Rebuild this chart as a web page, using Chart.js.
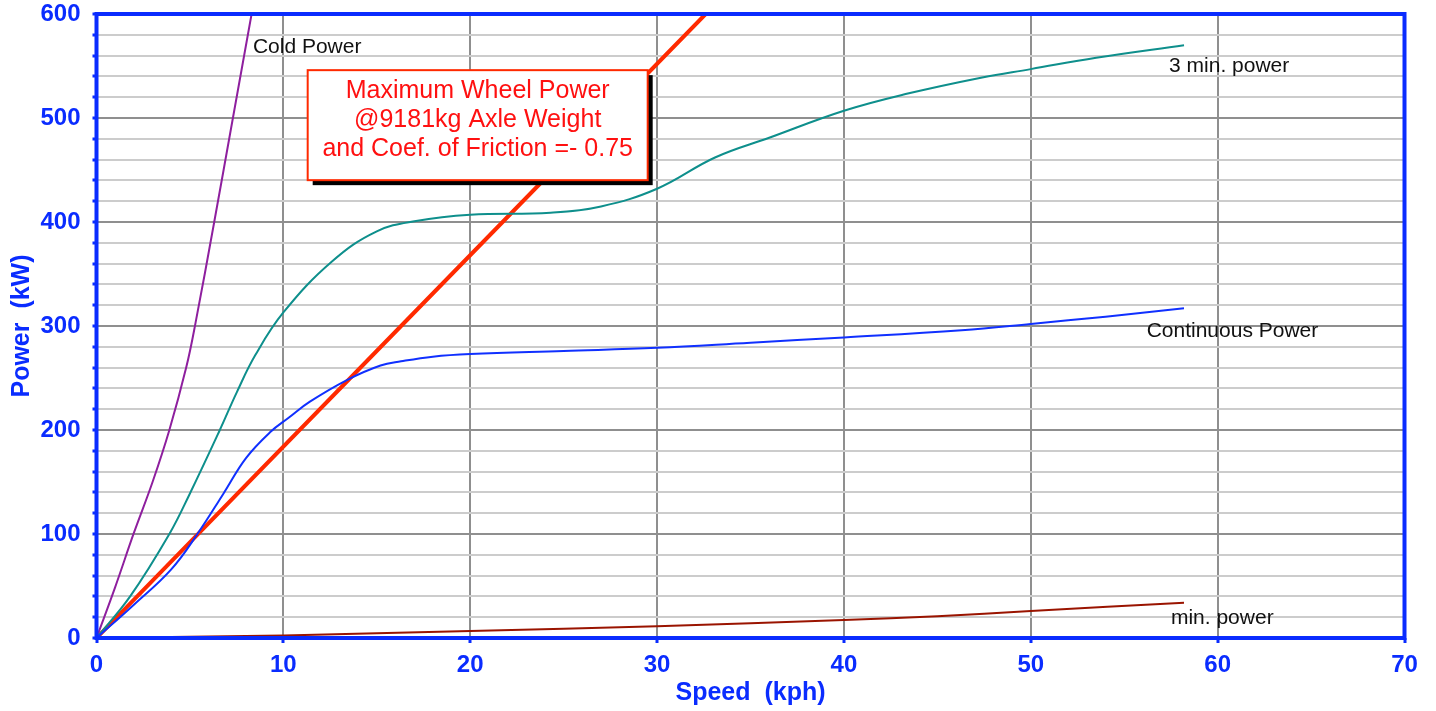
<!DOCTYPE html>
<html>
<head>
<meta charset="utf-8">
<script src="https://cdn.jsdelivr.net/npm/chart.js@4"></script>
<style>
  html, body { margin: 0; padding: 0; background: #fff; }
  #wrap { width: 1436px; height: 711px; }
</style>
</head>
<body>
<div id="wrap"><canvas id="powerChart" width="1436" height="711"></canvas></div>
<script>
// ---------- data (speed in kph, power in kW) ----------
const coldSpeed = [0, 1, 2, 3, 3.9, 4.8, 5.3, 6.3, 7.3, 8.3];
const coldPower = [0, 49, 101, 150, 200, 260, 303, 400, 500, 600];

const threeMinSpeed = [0, 1.8, 3.9, 5, 6.6, 7.5, 8.5, 10, 12.6, 15, 17.1, 20, 24.3, 27, 30, 33.1, 36, 40, 43.3, 47.4, 50, 53.5, 58.2];
const threeMinPower = [0, 40, 100, 139, 200, 236, 272, 313, 362, 391, 401, 407, 409, 415, 432, 462, 481, 507, 523, 539, 547, 558, 570];

const contSpeed = [0, 2, 4, 5.4, 6.8, 8, 9.3, 10.3, 11.4, 13.4, 15.2, 16.3, 18, 20, 25, 30, 35, 40, 46.3, 50, 54, 58.2];
const contPower = [0, 32, 66, 100, 139, 173, 198, 212, 227, 248, 262, 266, 270.5, 273, 276, 279, 284, 289, 296, 302, 309, 317];

const minSpeed = [0, 10, 20, 30, 40, 45, 50, 58.2];
const minPower = [0, 2.5, 6.8, 11.4, 17.2, 21, 26, 34];

const wheelSpeed = [0, 32.6];
const wheelPower = [0, 600];

const xTicks = [0, 10, 20, 30, 40, 50, 60, 70];
const yTicks = [0, 100, 200, 300, 400, 500, 600];

// series name labels: [text, speed, power]
const seriesLabels = [
  ["Cold Power", 8.37, 568],
  ["3 min. power", 57.4, 550],
  ["Continuous Power", 56.2, 295],
  ["min. power", 57.5, 19]
];
const noteLines = ["Maximum Wheel Power", "@9181kg Axle Weight", "and Coef. of Friction =- 0.75"];

// ---------- helpers ----------
const BLUE = "#0a2cff";
const FONT = "'Liberation Sans', Arial, Helvetica, sans-serif";

function toPoints(xs, ys) {
  return xs.map((x, i) => ({ x: x, y: ys[i] }));
}

function lineSet(label, xs, ys, color, width) {
  return {
    label: label,
    data: toPoints(xs, ys),
    borderColor: color,
    borderWidth: width,
    pointRadius: 0,
    fill: false,
    tension: 0.4
  };
}

// blue frame, series names and the red note box
const decorPlugin = {
  id: "decor",
  afterDatasetsDraw(chart) {
    const ctx = chart.ctx;
    const a = chart.chartArea;
    const xs = chart.scales.x;
    const ys = chart.scales.y;

    ctx.save();
    // note box
    const bw = 340, bh = 110;
    const bx = xs.getPixelForValue(20.4) - bw / 2;
    const by = ys.getPixelForValue(546);
    ctx.fillStyle = "#000";
    ctx.fillRect(bx + 5, by + 5, bw, bh);
    ctx.fillStyle = "#fff";
    ctx.fillRect(bx, by, bw, bh);
    ctx.strokeStyle = "#ff2a00";
    ctx.lineWidth = 2;
    ctx.strokeRect(bx, by, bw, bh);
    ctx.fillStyle = "#ff1010";
    ctx.font = "25px " + FONT;
    ctx.textAlign = "center";
    ctx.textBaseline = "middle";
    noteLines.forEach((t, i) => {
      ctx.fillText(t, bx + bw / 2, by + 21 + i * 29);
    });

    // series names
    ctx.fillStyle = "#111";
    ctx.font = "21px " + FONT;
    ctx.textAlign = "left";
    seriesLabels.forEach(([t, sx, sy]) => {
      ctx.fillText(t, xs.getPixelForValue(sx), ys.getPixelForValue(sy));
    });

    // frame
    ctx.strokeStyle = BLUE;
    ctx.lineWidth = 4;
    ctx.strokeRect(a.left, a.top, a.right - a.left, a.bottom - a.top);
    ctx.restore();
  }
};

// ---------- chart ----------
const chart = new Chart(document.getElementById("powerChart"), {
  type: "line",
  data: {
    datasets: [
      lineSet("min. power", minSpeed, minPower, "#9a1400", 2),
      lineSet("Continuous Power", contSpeed, contPower, "#1030ff", 2),
      lineSet("3 min. power", threeMinSpeed, threeMinPower, "#0e8f8c", 2),
      lineSet("Cold Power", coldSpeed, coldPower, "#8e1f9e", 2),
      lineSet("Maximum Wheel Power", wheelSpeed, wheelPower, "#ff2a00", 4)
    ]
  },
  options: {
    responsive: false,
    animation: false,
    devicePixelRatio: 1,
    layout: { padding: { left: 0, right: 31.5, top: 14, bottom: 0 } },
    plugins: {
      legend: { display: false },
      tooltip: { enabled: false }
    },
    scales: {
      x: {
        type: "linear",
        min: 0,
        max: 70,
        afterBuildTicks: (scale) => {
          scale.ticks = xTicks.map((v) => ({ value: v }));
        },
        afterFit: (scale) => {
          scale.height = 73;
          scale.paddingLeft = 0;
          scale.paddingRight = 0;
        },
        border: { display: false },
        grid: {
          color: "#8f8f8f",
          lineWidth: 2,
          tickColor: BLUE,
          tickLength: 5,
          tickWidth: 3
        },
        ticks: {
          color: BLUE,
          padding: 8,
          maxRotation: 0,
          font: { family: FONT, size: 24, weight: "bold" }
        },
        title: {
          display: true,
          text: "Speed  (kph)",
          color: BLUE,
          padding: { top: 0, bottom: 3 },
          font: { family: FONT, size: 25, weight: "bold" }
        }
      },
      y: {
        type: "linear",
        min: 0,
        max: 600,
        afterBuildTicks: (scale) => {
          const t = [];
          for (let v = 0; v <= 600; v += 20) t.push({ value: v });
          scale.ticks = t;
        },
        afterFit: (scale) => {
          scale.width = 96.5;
          scale.paddingTop = 0;
          scale.paddingBottom = 0;
        },
        border: { display: false },
        grid: {
          color: (c) => (c.tick && c.tick.value % 100 === 0 ? "#8f8f8f" : "#cccccc"),
          lineWidth: 2,
          tickColor: BLUE,
          tickLength: 4,
          tickWidth: 3
        },
        ticks: {
          color: BLUE,
          padding: 12,
          autoSkip: false,
          font: { family: FONT, size: 24, weight: "bold" },
          callback: (v) => (yTicks.includes(v) ? String(v) : "")
        },
        title: {
          display: true,
          text: "Power  (kW)",
          color: BLUE,
          padding: { top: 7, bottom: 0 },
          font: { family: FONT, size: 25, weight: "bold" }
        }
      }
    }
  },
  plugins: [decorPlugin]
});
</script>
</body>
</html>
